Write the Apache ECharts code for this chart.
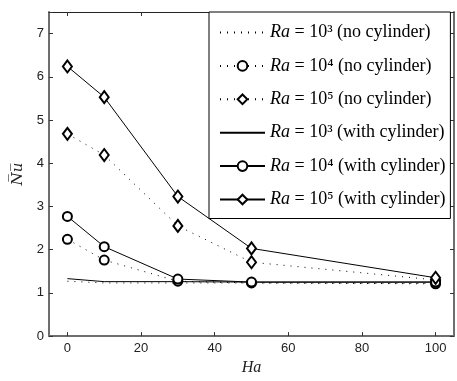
<!DOCTYPE html>
<html>
<head>
<meta charset="utf-8">
<script src="https://cdn.jsdelivr.net/npm/echarts@6/dist/echarts.min.js"></script>
<style>html,body{margin:0;padding:0;background:#fff;}#chart{width:457px;height:381px;}</style>
</head>
<body>
<div id="chart"></div>
<script>
// Hartmann numbers (x)
const haValues = [0, 10, 30, 50, 100];
// Average Nusselt number series
const nuNoCyl3 = [1.27, 1.23, 1.23, 1.23, 1.22];
const nuNoCyl4 = [2.24, 1.76, 1.27, 1.23, 1.21];
const nuNoCyl5 = [4.68, 4.19, 2.55, 1.71, 1.30];
const nuCyl3 = [1.33, 1.26, 1.26, 1.25, 1.25];
const nuCyl4 = [2.77, 2.07, 1.32, 1.25, 1.25];
const nuCyl5 = [6.24, 5.53, 3.23, 2.03, 1.35];
const seriesNames = [
  'Ra = 10\u00B3 (no cylinder)',
  'Ra = 10\u2074 (no cylinder)',
  'Ra = 10\u2075 (no cylinder)',
  'Ra = 10\u00B3 (with cylinder)',
  'Ra = 10\u2074 (with cylinder)',
  'Ra = 10\u2075 (with cylinder)'
];
const xTicks = [0, 20, 40, 60, 80, 100];

const seriesData = [nuNoCyl3, nuNoCyl4, nuNoCyl5, nuCyl3, nuCyl4, nuCyl5];
const symbols = ['none', 'emptyCircle', 'emptyDiamond', 'none', 'emptyCircle', 'emptyDiamond'];
const symbolSizes = [0, 9, [9, 12], 0, 9, [9, 12]];
const dashed = [true, true, true, false, false, false];

const chart = echarts.init(document.getElementById('chart'), null, {renderer: 'canvas'});

const series = seriesData.map((vals, i) => ({
  name: seriesNames[i],
  type: 'line',
  data: vals.map((v, j) => [haValues[j], v]),
  symbol: symbols[i],
  symbolSize: symbolSizes[i],
  showSymbol: symbols[i] !== 'none',
  lineStyle: {color: '#000', width: 1, type: dashed[i] ? [1, 6] : 'solid'},
  itemStyle: {color: '#000', borderWidth: 1.2},
  emphasis: {disabled: true},
  animation: false,
  z: 3
}));

const axisLineGray = {show: true, onZero: false, lineStyle: {color: '#6e6e6e', width: 2}};

const option = {
  animation: false,
  backgroundColor: '#fff',
  grid: {left: 49, top: 12, right: 3, bottom: 38, containLabel: false},
  xAxis: [{
    type: 'value', min: -5, max: 105, position: 'bottom',
    axisLine: axisLineGray,
    axisTick: {show: true, inside: true, length: 4, customValues: xTicks, lineStyle: {color: '#333'}},
    axisLabel: {customValues: xTicks, margin: 6, fontFamily: 'Liberation Sans', fontSize: 13, color: '#222'},
    splitLine: {show: false},
    name: 'Ha', nameLocation: 'middle', nameGap: 13,
    nameTextStyle: {fontFamily: 'Liberation Serif', fontStyle: 'italic', fontSize: 16, color: '#222'}
  }, {
    type: 'value', min: -5, max: 105, position: 'top',
    axisLine: {show: true, onZero: false, lineStyle: {color: '#222', width: 1}},
    axisTick: {show: true, inside: true, length: 4, customValues: xTicks, lineStyle: {color: '#333'}},
    axisLabel: {show: false},
    splitLine: {show: false}
  }],
  yAxis: [{
    type: 'value', min: 0, max: 7.5, interval: 1, position: 'left',
    axisLine: axisLineGray,
    axisTick: {show: true, inside: true, length: 4, lineStyle: {color: '#333'}},
    axisLabel: {margin: 5, fontFamily: 'Liberation Sans', fontSize: 13, color: '#222',
      formatter: v => (v % 1 === 0 ? String(v) : '')},
    splitLine: {show: false},
    name: 'N\u0305u\u0305', nameLocation: 'middle', nameGap: 20, nameRotate: 90,
    nameTextStyle: {fontFamily: 'DejaVu Serif', fontStyle: 'italic', fontSize: 15, color: '#222'}
  }, {
    type: 'value', min: 0, max: 7.5, interval: 1, position: 'right',
    axisLine: axisLineGray,
    axisTick: {show: true, inside: true, length: 4, lineStyle: {color: '#333'}},
    axisLabel: {show: false},
    splitLine: {show: false}
  }],
  legend: {
    orient: 'vertical',
    left: 209, top: 12,
    padding: [11.5, 5, 10, 10],
    itemWidth: 45, itemHeight: 12, itemGap: 15.4,
    backgroundColor: '#fff',
    borderColor: '#000', borderWidth: 1,
    selectedMode: false,
    data: seriesNames.map((n, i) => symbols[i] === 'none'
      ? {name: n, itemStyle: {opacity: 0, color: 'rgba(0,0,0,0)', borderColor: 'rgba(0,0,0,0)'}}
      : {name: n}),
    formatter: function (name) {
      const k = name.indexOf(' = ');
      return '{i|Ra}{r|' + name.slice(k) + '}';
    },
    textStyle: {
      color: '#000', fontFamily: 'Liberation Serif', fontSize: 18, lineHeight: 16,
      rich: {
        i: {fontFamily: 'Liberation Serif', fontStyle: 'italic', fontSize: 18, lineHeight: 16},
        r: {fontFamily: 'Liberation Serif', fontSize: 18, lineHeight: 16}
      }
    }
  },
  series: series
};
chart.setOption(option);
</script>
</body>
</html>
